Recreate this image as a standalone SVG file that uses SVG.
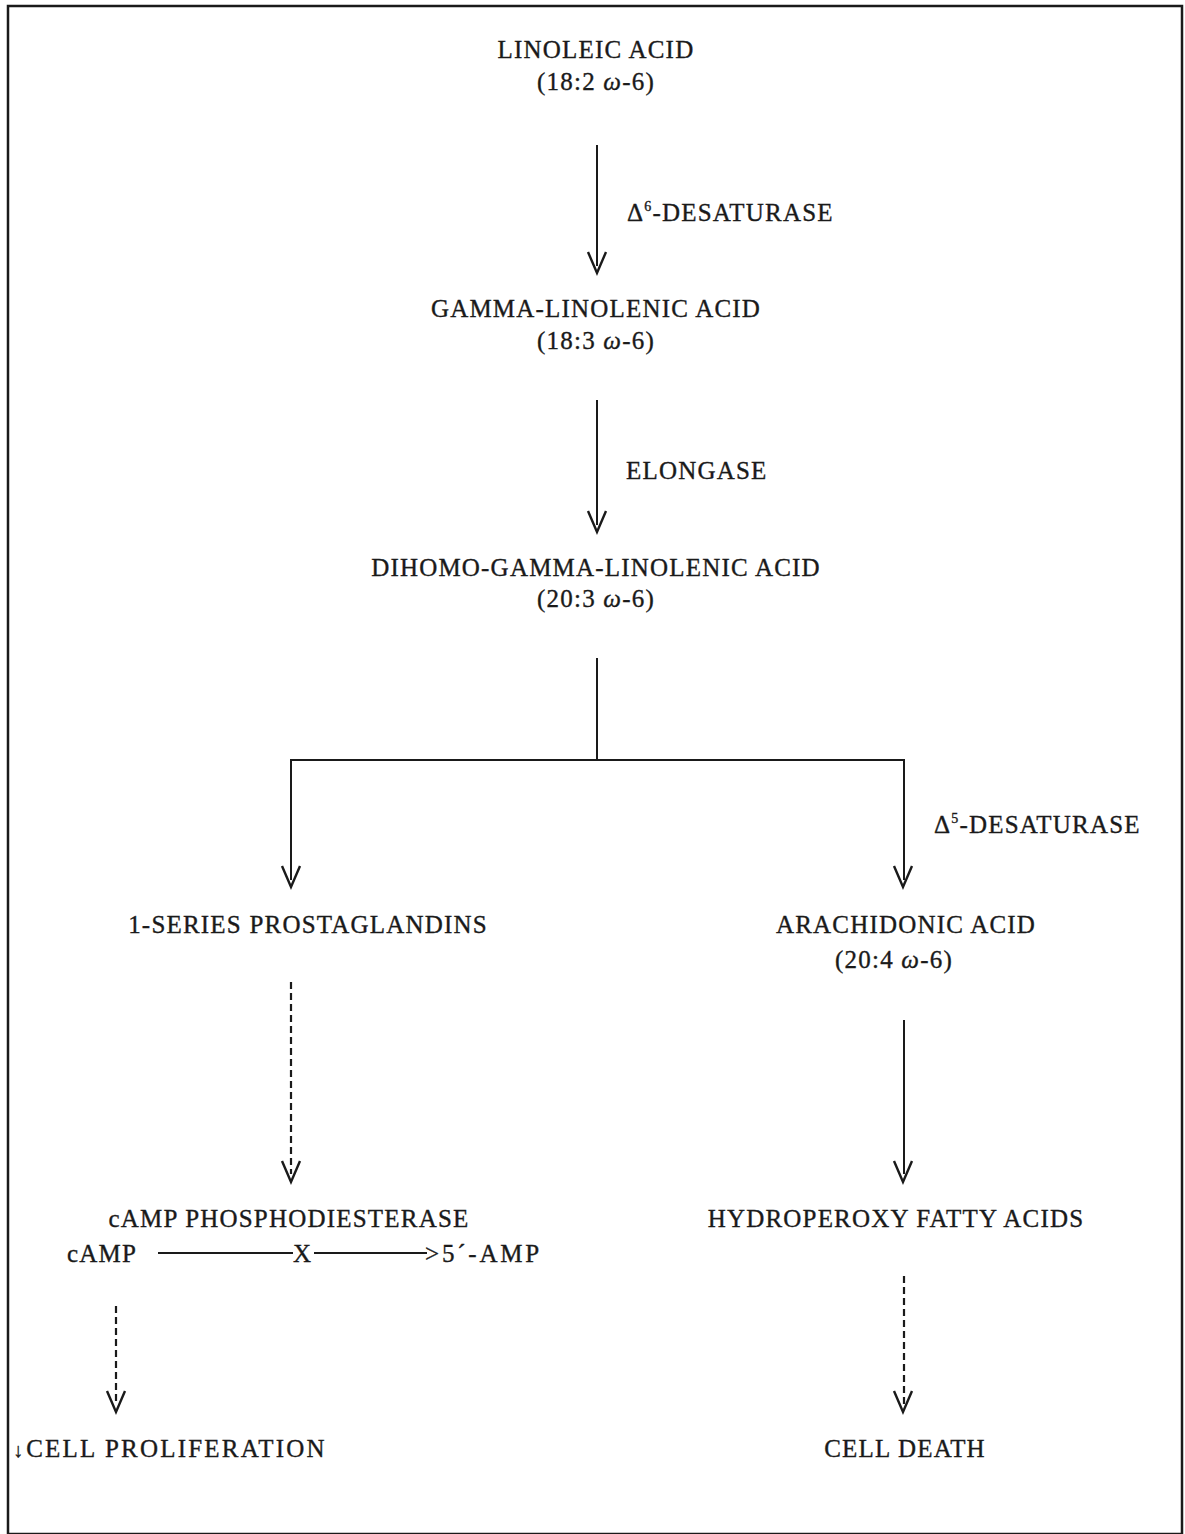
<svg xmlns="http://www.w3.org/2000/svg" width="1185" height="1534" viewBox="0 0 1185 1534">
<style>
text{font-family:"Liberation Serif","Times New Roman",serif;font-size:25px;fill:#1a1a1a;stroke:#1a1a1a;stroke-width:0.35;letter-spacing:1.2px}
.c{text-anchor:middle}
.w{font-style:italic}
.sup{font-size:14px}
.ln{stroke:#1a1a1a;stroke-width:2;fill:none}
.ds{stroke:#1a1a1a;stroke-width:2.2;fill:none;stroke-dasharray:7 4}
.hd{stroke:#1a1a1a;stroke-width:2.4;fill:none;stroke-linejoin:miter}
</style>
<defs>
<path id="v" d="M-9,0 L0,21 L9,0" class="hd"/>
</defs>
<rect x="8" y="6" width="1174" height="1528" fill="#fff" stroke="#1a1a1a" stroke-width="2.5"/>

<g id="linoleic"><text class="c" x="596" y="58">LINOLEIC ACID</text><text class="c" x="596" y="90">(18:2 <tspan class="w">ω</tspan>-6)</text></g>
<g id="gla"><text class="c" x="596" y="317">GAMMA-LINOLENIC ACID</text><text class="c" x="596" y="349">(18:3 <tspan class="w">ω</tspan>-6)</text></g>
<g id="dgla"><text class="c" x="596" y="576">DIHOMO-GAMMA-LINOLENIC ACID</text><text class="c" x="596" y="607">(20:3 <tspan class="w">ω</tspan>-6)</text></g>
<g id="pg1"><text class="c" x="308" y="933">1-SERIES PROSTAGLANDINS</text></g>
<g id="aa"><text class="c" x="906" y="933">ARACHIDONIC ACID</text><text class="c" x="894" y="968">(20:4 <tspan class="w">ω</tspan>-6)</text></g>
<g id="pde"><text class="c" x="289" y="1227">cAMP PHOSPHODIESTERASE</text>
<text x="67" y="1262">cAMP</text><text x="293" y="1262">X</text><text x="425" y="1262" style="letter-spacing:2.8px">&gt;5´-AMP</text></g>
<g id="hpfa"><text class="c" x="896" y="1227">HYDROPEROXY FATTY ACIDS</text></g>
<g id="prolif"><text x="13" y="1457"><tspan font-size="20" dx="0">↓</tspan><tspan dx="2" style="letter-spacing:2.2px">CELL PROLIFERATION</tspan></text></g>
<g id="death"><text class="c" x="905" y="1457">CELL DEATH</text></g>

<g id="labels">
<text x="627" y="221">Δ<tspan class="sup" dy="-10">6</tspan><tspan dy="10">-DESATURASE</tspan></text>
<text x="626" y="479">ELONGASE</text>
<text x="934" y="833">Δ<tspan class="sup" dy="-10">5</tspan><tspan dy="10">-DESATURASE</tspan></text>
</g>

<g id="connectors">
<line class="ln" x1="597" y1="145" x2="597" y2="266"/><use href="#v" x="597" y="252"/>
<line class="ln" x1="597" y1="400" x2="597" y2="525"/><use href="#v" x="597" y="511"/>
<polyline class="ln" points="597,658 597,760"/>
<polyline class="ln" points="291,880 291,760 904,760 904,880"/>
<use href="#v" x="291" y="866"/><use href="#v" x="903" y="866"/>
<line class="ds" x1="291" y1="982" x2="291" y2="1174"/><use href="#v" x="291" y="1161"/>
<line class="ln" x1="904" y1="1020" x2="904" y2="1174"/><use href="#v" x="903" y="1161"/>
<line class="ln" x1="158" y1="1253" x2="293" y2="1253"/>
<line class="ln" x1="314" y1="1253" x2="427" y2="1253"/>
<line class="ds" x1="116" y1="1306" x2="116" y2="1404"/><use href="#v" x="116" y="1391"/>
<line class="ds" x1="904" y1="1276" x2="904" y2="1404"/><use href="#v" x="903" y="1391"/>
</g>
</svg>
